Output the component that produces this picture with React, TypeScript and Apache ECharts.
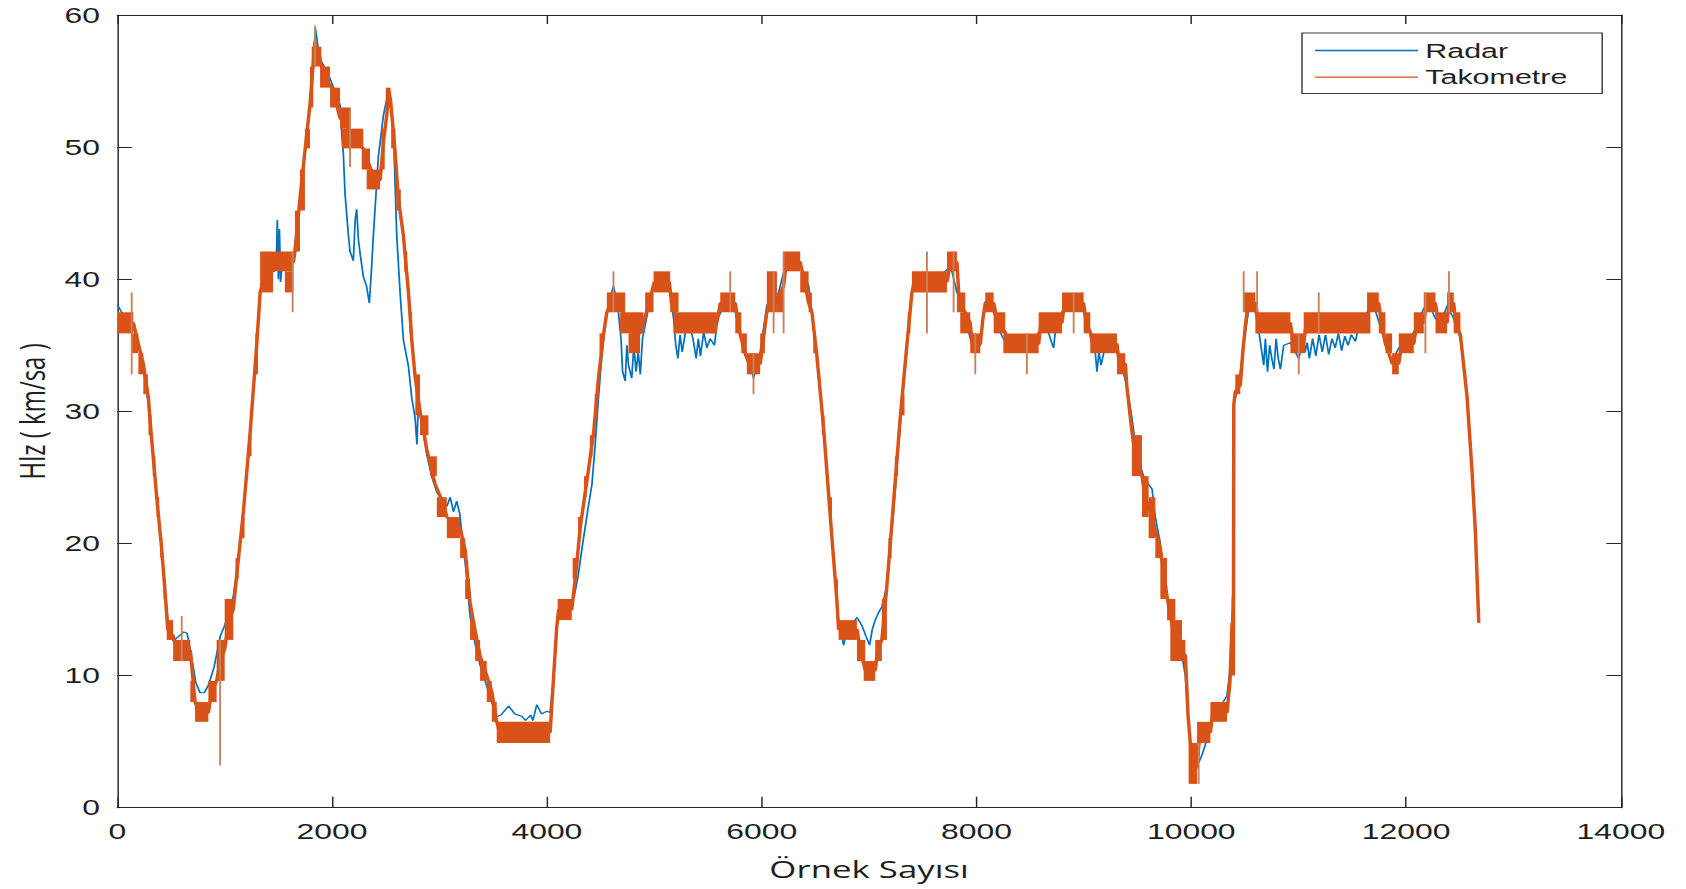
import React, { useEffect, useRef } from 'react';
import * as echarts from 'echarts';

// The reference figure is horizontally stretched; render narrower and stretch.
const STRETCH = 1.45;
const FULL_W = 1686;
const FULL_H = 889;

const X_MIN = 0;
const X_MAX = 14000;
const X_STEP = 2000;
const Y_MIN = 0;
const Y_MAX = 60;
const Y_STEP = 10;

const SERIES_NAMES = ['Radar', 'Takometre'];

// Radar speed readings [sample, km/h]
const radar: number[][] = [
  [0,38.1],[60,37.2],[134,36.8],[200,35.0],[250,33.0],[305,29.5],[367,23.5],[413,19.6],[444,16.4],[475,13.9],
  [520,12.6],[560,12.9],[620,13.3],[650,13.2],[690,11.5],[730,9.5],[770,8.7],[810,8.7],[850,9.3],[900,10.6],
  [960,13.0],[1000,13.8],[1040,14.8],[1080,16.0],[1112,17.8],[1174,22.5],[1236,28.5],[1298,35.2],[1330,39.0],
  [1360,40.5],[1390,41.5],[1420,40.3],[1480,41.0],[1490,44.5],[1500,40.0],[1510,43.8],[1520,39.8],[1540,41.5],
  [1600,41.0],[1640,41.5],[1700,46.0],[1747,49.5],[1794,53.0],[1825,56.5],[1845,59.0],[1870,57.5],[1900,56.5],
  [1981,55.2],[2074,53.2],[2090,51.0],[2105,49.5],[2120,46.5],[2150,43.5],[2167,42.1],[2198,41.4],[2215,44.5],
  [2229,45.3],[2245,43.0],[2260,42.0],[2291,40.2],[2320,39.5],[2347,38.2],[2365,40.5],[2384,43.3],[2431,49.3],
  [2478,52.4],[2524,54.2],[2550,53.0],[2571,51.2],[2602,43.3],[2633,39.0],[2664,35.4],[2711,33.4],[2742,31.0],
  [2773,29.5],[2790,27.5],[2805,31.0],[2840,29.0],[2882,26.7],[2930,25.0],[2975,23.9],[3030,23.1],[3068,22.8],
  [3100,23.5],[3130,22.4],[3160,23.2],[3190,22.2],[3210,20.5],[3240,18.5],[3285,14.5],[3332,12.4],[3378,10.8],
  [3440,9.2],[3487,8.0],[3533,6.9],[3570,7.0],[3644,7.7],[3700,7.1],[3770,6.9],[3800,6.6],[3850,7.0],[3870,6.6],
  [3906,7.8],[3950,7.1],[4000,7.3],[4030,7.2],[4061,9.7],[4092,13.7],[4130,15.3],[4200,15.6],[4250,15.8],
  [4290,17.5],[4330,19.8],[4380,22.5],[4420,24.5],[4450,27.5],[4480,31.0],[4510,34.0],[4540,36.5],[4570,38.0],
  [4620,39.5],[4660,38.0],[4690,35.5],[4705,33.0],[4729,32.3],[4745,35.0],[4760,33.5],[4790,32.5],[4810,35.0],
  [4830,33.0],[4850,34.5],[4870,32.8],[4890,35.5],[4915,36.5],[4950,38.0],[4993,39.5],[5070,40.0],[5148,39.0],
  [5180,37.0],[5200,35.0],[5220,34.0],[5240,35.8],[5260,34.5],[5290,36.0],[5330,36.5],[5360,35.5],[5390,34.0],
  [5410,35.5],[5430,34.2],[5460,36.0],[5490,34.8],[5520,35.5],[5560,35.0],[5590,37.0],[5650,38.0],[5720,38.3],
  [5754,37.5],[5800,35.8],[5847,34.2],[5900,33.5],[5924,32.5],[5960,33.5],[5986,34.5],[6048,38.0],[6100,39.0],
  [6142,38.5],[6204,40.5],[6266,41.5],[6300,42.0],[6359,41.0],[6437,39.5],[6468,37.5],[6514,34.2],[6577,28.7],
  [6639,22.0],[6701,15.6],[6716,14.0],[6763,12.3],[6800,13.6],[6850,14.0],[6887,14.4],[6933,13.8],[6970,13.0],
  [7005,12.3],[7030,13.5],[7057,14.2],[7090,14.8],[7119,15.2],[7166,16.8],[7228,22.5],[7290,29.0],[7352,34.8],
  [7399,39.0],[7440,39.8],[7500,39.7],[7600,40.0],[7700,40.5],[7760,41.0],[7818,39.0],[7860,38.5],[7900,37.0],
  [7942,35.5],[7989,34.5],[8036,35.0],[8060,37.0],[8082,38.3],[8120,38.5],[8160,37.5],[8220,36.0],[8268,35.2],
  [8300,35.0],[8400,35.0],[8500,34.8],[8579,36.0],[8650,36.5],[8700,35.2],[8718,34.8],[8740,36.5],[8796,37.5],
  [8850,38.3],[8950,38.5],[8998,37.5],[9060,36.0],[9100,35.0],[9122,33.0],[9140,34.5],[9160,33.5],[9200,35.0],
  [9250,35.2],[9308,34.5],[9350,33.5],[9400,31.9],[9448,29.5],[9480,27.5],[9520,26.0],[9560,25.0],[9635,24.1],
  [9665,22.0],[9712,20.0],[9740,18.0],[9774,16.0],[9805,14.5],[9852,13.5],[9890,12.0],[9914,11.5],[9945,10.0],
  [9970,7.0],[9991,5.0],[10030,3.8],[10069,3.4],[10100,4.0],[10140,5.0],[10178,6.2],[10210,7.0],[10240,7.8],
  [10290,7.9],[10333,8.5],[10370,11.0],[10385,16.0],[10392,12.0],[10396,30.7],[10430,31.5],[10457,33.0],
  [10504,36.0],[10540,38.0],[10597,37.5],[10630,36.0],[10675,33.5],[10690,35.5],[10710,33.0],[10730,35.0],
  [10750,34.0],[10770,33.2],[10790,35.5],[10810,34.0],[10830,33.2],[10861,35.0],[10923,35.2],[11001,34.0],
  [11047,35.5],[11060,34.5],[11080,35.2],[11100,34.0],[11130,35.5],[11160,34.2],[11190,35.8],[11220,34.5],
  [11250,35.8],[11280,34.3],[11310,35.5],[11340,34.8],[11370,35.9],[11400,34.6],[11430,35.7],[11460,35.0],
  [11490,35.8],[11528,35.3],[11560,36.5],[11637,37.5],[11700,38.0],[11746,36.8],[11808,35.2],[11870,33.8],
  [11932,34.8],[12000,35.2],[12072,36.0],[12165,37.8],[12220,38.0],[12274,37.0],[12330,36.8],[12382,38.0],
  [12444,37.0],[12506,35.5],[12568,31.1],[12614,25.5],[12646,20.8],[12677,14.0],
];

// Tachometer centre trace [sample, km/h]
const takoLine: number[][] = [
  [0,36.7],[150,36.7],[196,35.1],[242,33.6],[290,31.0],[305,29.3],[367,23.5],[413,19.6],[444,16.4],[470,13.5],
  [520,13.0],[560,11.9],[680,11.9],[724,8.0],[760,7.2],[848,7.2],[880,8.8],[925,9.6],[960,11.1],[1000,12.0],
  [1040,14.2],[1080,15.0],[1112,17.6],[1174,22.4],[1236,28.3],[1298,35.0],[1330,39.0],[1380,40.6],[1450,40.6],
  [1520,41.3],[1640,41.3],[1654,42.1],[1701,46.1],[1747,49.7],[1794,53.2],[1825,56.4],[1841,58.0],[1880,56.8],
  [1930,55.3],[2000,54.5],[2074,52.2],[2150,51.4],[2200,50.6],[2291,49.9],[2330,49.0],[2400,47.5],[2447,47.5],
  [2480,50.5],[2510,52.5],[2530,54.2],[2545,53.5],[2586,49.7],[2617,46.1],[2664,43.3],[2711,39.0],[2742,35.4],
  [2773,32.6],[2819,30.0],[2882,27.1],[2959,24.5],[3037,23.0],[3068,22.0],[3192,21.2],[3239,19.5],[3285,15.5],
  [3332,13.4],[3378,11.5],[3440,10.0],[3487,8.8],[3533,6.5],[3560,5.7],[4030,5.7],[4061,9.7],[4092,13.7],
  [4110,15.0],[4232,15.0],[4279,18.5],[4310,21.2],[4372,24.7],[4434,28.3],[4481,32.6],[4527,35.8],[4558,37.5],
  [4600,38.2],[4690,38.2],[4729,36.7],[4800,35.9],[4868,35.9],[4900,36.7],[4950,38.2],[5000,39.8],[5140,39.8],
  [5160,38.2],[5226,36.7],[5583,36.7],[5614,38.2],[5754,38.2],[5800,35.8],[5847,34.4],[5880,33.6],[5986,33.6],
  [6048,37.5],[6100,39.0],[6142,38.2],[6204,39.5],[6230,41.3],[6359,41.3],[6400,39.8],[6437,38.2],[6468,37.5],
  [6514,34.2],[6577,28.7],[6639,22.0],[6701,15.6],[6716,13.5],[6887,13.5],[6920,11.9],[6964,10.4],[7057,10.4],
  [7080,11.9],[7119,12.7],[7166,16.8],[7228,23.1],[7290,29.5],[7352,35.0],[7399,39.0],[7420,39.8],[7725,39.8],
  [7760,41.3],[7818,41.3],[7840,38.2],[7896,37.5],[7942,36.7],[7960,35.1],[8036,35.1],[8060,37.0],[8082,38.2],
  [8160,38.2],[8200,36.7],[8268,36.0],[8290,35.1],[8579,35.1],[8600,36.7],[8796,36.7],[8820,38.2],[8998,38.2],
  [9020,36.7],[9060,36.0],[9080,35.1],[9308,35.1],[9330,33.6],[9386,33.6],[9400,31.9],[9447,28.5],[9480,26.6],
  [9541,25.1],[9570,23.5],[9603,22.8],[9640,21.9],[9665,21.0],[9712,19.6],[9740,18.0],[9774,16.0],[9805,14.5],
  [9852,12.7],[9945,11.5],[9970,7.0],[9991,4.9],[10030,3.4],[10054,3.0],[10080,5.7],[10178,5.7],[10200,7.2],
  [10333,7.2],[10360,9.5],[10380,14.0],[10392,10.0],[10396,30.5],[10410,31.5],[10457,32.0],[10480,34.5],
  [10504,36.5],[10530,38.2],[10597,38.2],[10630,36.7],[10923,36.7],[10950,35.1],[11047,35.1],[11070,36.7],
  [11637,36.7],[11660,38.2],[11746,38.2],[11770,36.7],[11808,35.1],[11840,34.4],[11870,33.6],[11932,33.6],
  [11960,35.1],[12072,35.1],[12100,36.7],[12165,36.7],[12190,38.2],[12274,38.2],[12300,36.7],[12382,36.7],
  [12400,38.2],[12444,38.2],[12460,36.7],[12506,35.8],[12568,31.1],[12614,25.5],[12646,20.8],[12677,14.0],
];

// Dense tachometer oscillation bands [fromSample, toSample, low, high]
const takoBands: number[][] = [
  [0,150,35.9,37.5],[134,196,34.4,35.9],[196,242,32.8,34.4],[242,285,31.3,32.8],[290,320,28.2,29.7],
  [330,355,25.1,26.6],[365,390,22.0,23.5],[400,420,18.9,20.4],[430,450,15.8,17.3],[460,520,12.7,14.2],
  [520,680,11.1,12.7],[680,724,8.0,9.6],[724,848,6.5,8.0],[848,925,8.0,9.6],[925,1000,9.6,12.7],
  [1000,1080,12.7,15.8],[1100,1130,17.3,18.9],[1160,1185,20.4,22.0],[1225,1250,26.6,28.2],[1285,1310,32.8,35.9],
  [1330,1450,39.0,42.1],[1450,1640,40.6,42.1],[1560,1640,39.0,40.6],[1654,1701,42.1,45.2],[1701,1747,45.2,48.3],
  [1747,1794,49.9,51.4],[1794,1825,53.0,56.1],[1810,1900,56.1,57.6],[1888,1981,54.5,56.1],[1981,2074,53.0,54.5],
  [2074,2167,51.4,53.0],[2090,2291,49.9,51.4],[2276,2353,48.3,49.9],[2322,2447,46.8,48.3],[2460,2490,48.3,51.4],
  [2500,2545,53.0,54.5],[2550,2590,49.9,51.4],[2600,2640,45.2,46.8],[2670,2700,40.6,42.1],[2720,2745,35.9,37.5],
  [2775,2819,29.7,32.8],[2819,2897,28.2,29.7],[2913,2975,25.1,26.6],[2975,3068,22.0,23.5],[3068,3192,20.4,22.0],
  [3192,3239,18.9,20.4],[3239,3285,15.8,17.3],[3285,3332,12.7,14.2],[3332,3378,11.1,12.7],[3378,3440,9.6,11.1],
  [3440,3487,8.0,9.6],[3487,3533,6.5,8.0],[3533,4030,4.9,6.5],[4100,4232,14.2,15.8],[4240,4275,17.3,18.9],
  [4290,4320,20.4,22.0],[4345,4370,23.5,25.1],[4400,4425,26.6,28.2],[4445,4470,29.7,31.3],[4490,4520,34.4,35.9],
  [4558,4729,37.5,39.0],[4682,4900,35.9,37.5],[4760,4868,34.4,35.9],[4915,4993,37.5,39.0],[4993,5148,39.0,40.6],
  [5148,5226,37.5,39.0],[5179,5583,35.9,37.5],[5614,5754,37.5,39.0],[5754,5810,35.9,37.5],[5810,5862,34.4,35.9],
  [5862,5986,32.8,34.4],[5986,6030,34.4,35.9],[6048,6142,37.5,40.6],[6142,6204,37.5,39.0],[6204,6359,40.6,42.1],
  [6359,6437,39.0,40.6],[6437,6468,37.5,39.0],[6480,6505,34.4,35.9],[6560,6585,28.2,29.7],[6630,6655,22.0,23.5],
  [6690,6710,15.8,17.3],[6716,6887,12.7,14.2],[6887,6964,11.1,12.7],[6950,7057,9.6,11.1],[7057,7119,11.1,12.7],
  [7119,7166,12.7,15.8],[7180,7210,18.9,20.4],[7240,7270,25.1,26.6],[7300,7330,29.7,31.3],[7360,7385,35.9,37.5],
  [7399,7725,39.0,40.6],[7725,7818,40.6,42.1],[7818,7896,37.5,39.0],[7849,7942,35.9,37.5],[7942,8036,34.4,35.9],
  [8082,8160,37.5,39.0],[8160,8268,35.9,37.5],[8250,8579,34.4,35.9],[8579,8796,35.9,37.5],[8796,8998,37.5,39.0],
  [8998,9060,35.9,37.5],[9060,9308,34.4,35.9],[9308,9386,32.8,34.4],[9447,9541,25.1,28.2],[9541,9603,22.0,25.1],
  [9603,9665,20.4,23.5],[9665,9712,18.9,20.4],[9712,9774,15.8,18.9],[9774,9852,14.2,15.8],[9805,9914,11.1,14.2],
  [9852,9945,11.1,12.7],[9975,10054,1.8,4.9],[10054,10178,4.9,6.5],[10178,10333,6.5,8.0],[10410,10457,31.3,32.8],
  [10490,10597,37.5,39.0],[10597,10923,35.9,37.5],[10923,11062,34.4,35.9],[11047,11668,35.9,37.5],
  [11637,11746,37.5,39.0],[11746,11808,35.9,37.5],[11808,11870,34.4,35.9],[11870,11932,32.8,34.4],
  [11932,12072,34.4,35.9],[12072,12165,35.9,37.5],[12165,12274,37.5,39.0],[12274,12382,35.9,37.5],
  [12382,12444,37.5,39.0],[12444,12506,35.9,37.5],
];

// Single-sample tachometer spikes [sample, low, high]
const takoSpikes: number[][] = [
  [134,32.8,39.0],[600,11.1,14.5],[957,3.2,12.7],[1633,37.5,42.1],[1841,56.1,59.2],[2167,48.5,53.0],
  [4620,37.5,40.6],[5707,37.5,40.6],[5924,31.3,34.4],[6111,35.9,40.6],[6204,35.9,42.1],[7539,35.9,42.1],
  [7787,37.5,42.1],[7989,32.8,35.9],[8470,32.8,35.9],[8905,35.9,39.0],[10069,1.8,4.9],[10488,37.5,40.6],
  [10613,37.5,40.6],[11001,32.8,35.9],[11187,35.9,39.0],[12180,34.4,39.0],[12400,37.5,40.6],
];

const BLUE = '#0072BD';
const ORANGE = '#D95319';
const AXIS = '#262626';
const TEXT = '#1f1f1f';
const SANS = '"Liberation Sans", Arial, sans-serif';
const TITLE_FONT = '"Open Sans", "Noto Sans", sans-serif';

export default function App() {
  const ref = useRef<HTMLDivElement>(null);

  useEffect(() => {
    document.body.style.margin = '0';
    document.body.style.overflow = 'hidden';
    if (!ref.current) return;
    const chart = echarts.init(ref.current, undefined, { renderer: 'svg' });
    const W = FULL_W / STRETCH;

    const axisCommon = {
      type: 'value' as const,
      splitLine: { show: false },
      axisLine: { show: true, onZero: false, lineStyle: { color: AXIS, width: 1 } },
    };

    chart.setOption({
      animation: false,
      backgroundColor: '#ffffff',
      grid: {
        left: 117.3 / STRETCH,
        right: W - 1620.5 / STRETCH,
        top: 15,
        bottom: FULL_H - 807.7,
        containLabel: false,
      },
      legend: {
        data: [
          { name: SERIES_NAMES[0], icon: 'rect', itemStyle: { color: BLUE } },
          { name: SERIES_NAMES[1], icon: 'rect', itemStyle: { color: ORANGE } },
        ],
        orient: 'vertical',
        left: 1302 / STRETCH,
        top: 33,
        itemWidth: 71,
        itemHeight: 1.3,
        itemGap: 5.6,
        padding: [7, 24, 6, 9],
        borderColor: '#3a3a3a',
        borderWidth: 1,
        borderRadius: 0,
        backgroundColor: '#ffffff',
        textStyle: { fontSize: 21, fontFamily: SANS, color: TEXT, lineHeight: 21 },
      },
      xAxis: [
        {
          ...axisCommon,
          position: 'bottom',
          min: X_MIN,
          max: X_MAX,
          interval: X_STEP,
          axisTick: { show: true, inside: true, length: 11, lineStyle: { color: AXIS } },
          axisLabel: {
            show: true,
            fontSize: 22,
            fontFamily: SANS,
            color: TEXT,
            margin: 13,
            formatter: (v: number) => String(v),
          },
          name: 'Örnek Sayısı',
          nameLocation: 'middle',
          nameGap: 49,
          nameTextStyle: { fontSize: 24, fontFamily: TITLE_FONT, color: TEXT },
        },
        {
          ...axisCommon,
          position: 'top',
          min: X_MIN,
          max: X_MAX,
          interval: X_STEP,
          axisTick: { show: true, inside: true, length: 9, lineStyle: { color: AXIS } },
          axisLabel: { show: false },
        },
      ],
      yAxis: [
        {
          ...axisCommon,
          position: 'left',
          min: Y_MIN,
          max: Y_MAX,
          interval: Y_STEP,
          axisTick: { show: true, inside: true, length: 10, lineStyle: { color: AXIS } },
          axisLabel: { show: true, fontSize: 22, fontFamily: SANS, color: TEXT, margin: 12 },
          name: 'Hlz ( km/sa )',
          nameLocation: 'middle',
          nameGap: 46,
          nameTextStyle: { fontSize: 24, fontFamily: TITLE_FONT, color: TEXT },
        },
        {
          ...axisCommon,
          position: 'right',
          min: Y_MIN,
          max: Y_MAX,
          interval: Y_STEP,
          axisTick: { show: true, inside: true, length: 10, lineStyle: { color: AXIS } },
          axisLabel: { show: false },
        },
      ],
      series: [
        {
          name: SERIES_NAMES[0],
          type: 'line',
          data: radar,
          showSymbol: false,
          symbol: 'none',
          lineStyle: { color: BLUE, width: 1.2 },
          itemStyle: { color: BLUE },
          z: 2,
        },
        {
          name: SERIES_NAMES[1],
          type: 'line',
          data: takoLine,
          showSymbol: false,
          symbol: 'none',
          lineStyle: { color: ORANGE, width: 2.4 },
          itemStyle: { color: ORANGE },
          z: 3,
        },
        {
          name: 'TakometreBands',
          type: 'custom',
          data: takoBands,
          encode: { x: [0, 1], y: [2, 3] },
          z: 4,
          renderItem: (params: any, api: any) => {
            const p0 = api.coord([api.value(0), api.value(3)]);
            const p1 = api.coord([api.value(1), api.value(2)]);
            return {
              type: 'rect',
              shape: { x: p0[0], y: p0[1], width: Math.max(1, p1[0] - p0[0]), height: p1[1] - p0[1] },
              style: { fill: ORANGE },
            };
          },
        },
        {
          name: 'TakometreSpikes',
          type: 'custom',
          data: takoSpikes,
          encode: { x: 0, y: [1, 2] },
          z: 5,
          renderItem: (params: any, api: any) => {
            const p0 = api.coord([api.value(0), api.value(1)]);
            const p1 = api.coord([api.value(0), api.value(2)]);
            return {
              type: 'line',
              shape: { x1: p0[0], y1: p0[1], x2: p1[0], y2: p1[1] },
              style: { stroke: '#c9825a', lineWidth: 1.3 },
            };
          },
        },
      ],
    });

    return () => {
      chart.dispose();
    };
  }, []);

  return (
    <div
      ref={ref}
      style={{
        position: 'absolute',
        left: 0,
        top: 0,
        width: FULL_W / STRETCH,
        height: FULL_H,
        transform: `scaleX(${STRETCH})`,
        transformOrigin: '0 0',
        background: '#fff',
      }}
    />
  );
}
